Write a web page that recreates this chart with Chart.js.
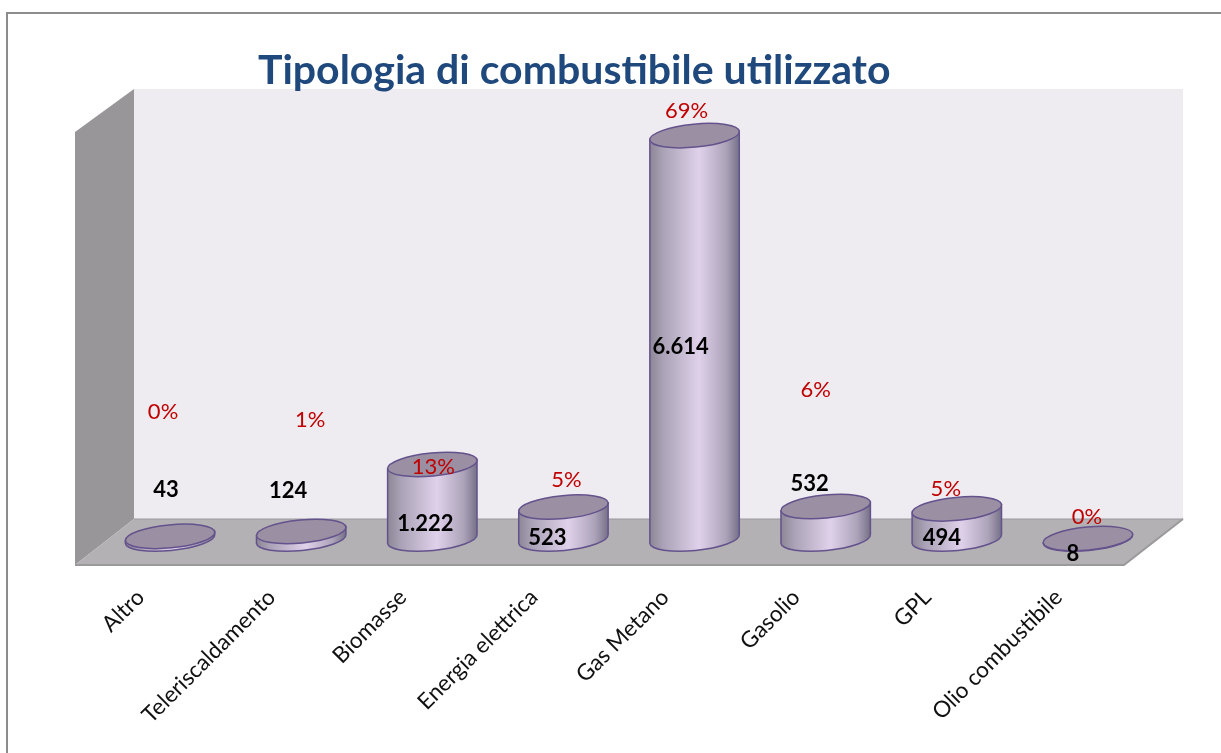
<!DOCTYPE html>
<html>
<head>
<meta charset="utf-8">
<title>Tipologia di combustibile utilizzato</title>
<script src="https://cdn.jsdelivr.net/npm/chart.js@4"></script>
<style>
  html, body { margin: 0; padding: 0; background: #fff; }
  #box { position: relative; width: 1221px; height: 753px; }
</style>
</head>
<body>
<div id="box"><canvas id="fuel-chart"></canvas></div>
<script>
// Values
const categories = ["Altro", "Teleriscaldamento", "Biomasse", "Energia elettrica", "Gas Metano", "Gasolio", "GPL", "Olio combustibile"];
const counts = [43, 124, 1222, 523, 6614, 532, 494, 8];
const percents = [0, 1, 13, 5, 69, 6, 5, 0];

// Hand placed labels in the original, offsets from the top of each cylinder
const percentNudge = [[-7, -124], [9, -112], [1, 2], [3, -27], [-8, -25], [-10, -117], [-11, -20], [-1, -22]];
const countNudge = [[-4, -46], [-13, -41], [-7, 59], [-16, 31], [-14, 211], [-16, -23], [-15, 29], [-15, 15]];

// Depth of the fake 3D box
const depthX = 59;
const depthY = 46;
const backTopDrop = 3;
const barShiftX = 29.5;
const barShiftY = 26;
const tilt = -5.5 * Math.PI / 180;
const ellipseRy = 11.5;

function formatCount(n) {
  return String(n).replace(/\B(?=(\d{3})+$)/g, ".");
}

function polygon(ctx, pts, fill) {
  ctx.beginPath();
  pts.forEach(([x, y], i) => (i ? ctx.lineTo(x, y) : ctx.moveTo(x, y)));
  ctx.closePath();
  ctx.fillStyle = fill;
  ctx.fill();
}

// Frame and 3D walls behind the bars
const wallsPlugin = {
  id: "walls",
  afterLayout(chart) {
    // title starts left of centre in the original
    chart.titleBlock.left = 258;
  },
  beforeDraw(chart) {
    const { ctx, chartArea: a } = chart;
    const backTop = a.top - depthY + backTopDrop;
    ctx.save();
    ctx.strokeStyle = "#8c8c8c";
    ctx.lineWidth = 2;
    ctx.beginPath();
    ctx.moveTo(7, 753);
    ctx.lineTo(7, 13);
    ctx.lineTo(1221, 13);
    ctx.stroke();

    polygon(ctx, [[a.left + depthX, backTop], [a.right + depthX, backTop], [a.right + depthX, a.bottom - depthY], [a.left + depthX, a.bottom - depthY]], "#eeecf1");
    polygon(ctx, [[a.left, a.top], [a.left + depthX, backTop], [a.left + depthX, a.bottom - depthY], [a.left, a.bottom]], "#989699");
    polygon(ctx, [[a.left, a.bottom], [a.right, a.bottom], [a.right + depthX, a.bottom - depthY], [a.left + depthX, a.bottom - depthY]], "#b3b1b4");

    ctx.strokeStyle = "#9a999b";
    ctx.lineWidth = 2;
    ctx.beginPath();
    ctx.moveTo(a.left, a.bottom);
    ctx.lineTo(a.right, a.bottom);
    ctx.lineTo(a.right + depthX, a.bottom - depthY);
    ctx.stroke();
    ctx.lineWidth = 1;
    ctx.beginPath();
    ctx.moveTo(a.left + depthX, a.bottom - depthY);
    ctx.lineTo(a.right + depthX, a.bottom - depthY);
    ctx.stroke();
    ctx.restore();
  },
  afterDatasetsDraw(chart) {
    const { ctx } = chart;
    const bars = chart.getDatasetMeta(0).data;
    ctx.save();
    bars.forEach((bar) => {
      const cx = bar.x + barShiftX;
      const rx = bar.width / 2;
      const topY = bar.y - barShiftY;
      const baseY = bar.base - barShiftY;
      const sx = rx * Math.cos(tilt);
      const sy = rx * Math.sin(tilt);

      // cylinder side
      const grad = ctx.createLinearGradient(cx - rx, 0, cx + rx, 0);
      grad.addColorStop(0, "#8b8695");
      grad.addColorStop(0.15, "#aaa2b6");
      grad.addColorStop(0.55, "#dfd1ea");
      grad.addColorStop(0.85, "#aca3b9");
      grad.addColorStop(1, "#757087");
      ctx.beginPath();
      ctx.moveTo(cx - sx, topY - sy);
      ctx.lineTo(cx - sx, baseY - sy);
      ctx.ellipse(cx, baseY, rx, ellipseRy, tilt, Math.PI, 0, true);
      ctx.lineTo(cx + sx, topY + sy);
      ctx.closePath();
      ctx.fillStyle = grad;
      ctx.fill();
      ctx.strokeStyle = "#64528c";
      ctx.lineWidth = 1.5;
      ctx.stroke();

      // cylinder top
      ctx.beginPath();
      ctx.ellipse(cx, topY, rx, ellipseRy, tilt, 0, Math.PI * 2);
      ctx.fillStyle = "#9b90a3";
      ctx.fill();
      ctx.stroke();
    });

    ctx.textAlign = "center";
    ctx.textBaseline = "middle";
    bars.forEach((bar, i) => {
      const cx = bar.x + barShiftX;
      const topY = bar.y - barShiftY;
      ctx.font = "bold 22px Lato";
      ctx.fillStyle = "#000000";
      ctx.fillText(formatCount(counts[i]), cx + countNudge[i][0], topY + countNudge[i][1]);
      ctx.font = "22px Lato";
      ctx.fillStyle = "#c00000";
      ctx.fillText(percents[i] + "%", cx + percentNudge[i][0], topY + percentNudge[i][1]);
    });
    ctx.restore();
  },
};

new Chart(document.getElementById("fuel-chart"), {
  type: "bar",
  data: {
    labels: categories,
    datasets: [
      {
        label: "Tipologia di combustibile",
        data: counts,
        backgroundColor: "rgba(0,0,0,0)",
        borderWidth: 0,
        barPercentage: 0.685,
        categoryPercentage: 1,
      },
    ],
  },
  plugins: [wallsPlugin],
  options: {
    responsive: true,
    maintainAspectRatio: false,
    animation: false,
    layout: { padding: { left: 75, right: 97, top: 40, bottom: 0 } },
    scales: {
      x: {
        grid: { display: false },
        border: { display: false },
        afterFit(scale) {
          scale.height = 188;
        },
        ticks: {
          minRotation: 45,
          maxRotation: 45,
          padding: 11,
          color: "#111111",
          font: { family: "Lato", size: 22.5 },
        },
      },
      y: {
        display: false,
        min: 0,
        max: 7100,
      },
    },
    plugins: {
      legend: { display: false },
      tooltip: { enabled: false },
      title: {
        display: true,
        text: "Tipologia di combustibile utilizzato",
        align: "start",
        color: "#1f497d",
        font: { family: "Lato", size: 41, weight: "bold", lineHeight: 1.2 },
        padding: { top: 6.5, bottom: 36.3 },
      },
    },
  },
});
</script>
</body>
</html>
